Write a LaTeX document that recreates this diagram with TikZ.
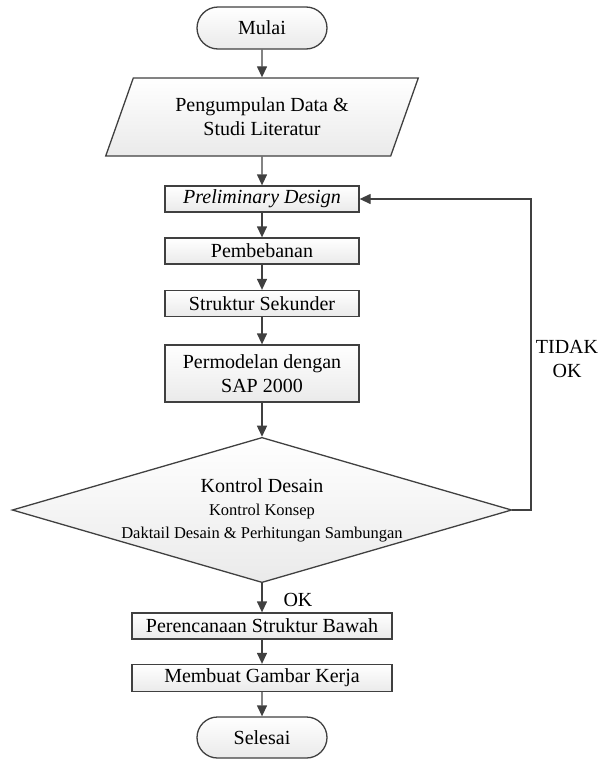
\documentclass[tikz,border=0pt]{standalone}
\usepackage{fontspec}
\setmainfont{Liberation Serif}
\usetikzlibrary{shapes.geometric,shapes.misc,arrows.meta}

\definecolor{garis}{HTML}{404040}
\definecolor{isi}{HTML}{EAEAEA}

\tikzset{
  kotak/.style={draw=garis, line width=1.3pt, top color=white, bottom color=isi,
    minimum width=194pt, minimum height=26pt, inner sep=0pt, align=center,
    font=\fontsize{20}{24}\selectfont},
  terminal/.style={kotak, rounded rectangle, minimum width=130pt, minimum height=42pt},
  masukan/.style={kotak, trapezium, trapezium left angle=64, trapezium right angle=116,
    trapezium stretches=true, minimum width=313pt, minimum height=78pt},
  keputusan/.style={kotak, diamond, shape aspect=3.44},
  panah/.style={draw=garis, line width=1.3pt, -{Triangle[width=10pt,length=11pt]}},
  teks/.style={inner sep=0pt, align=center, font=\fontsize{20}{24}\selectfont}
}

\begin{document}
\begin{tikzpicture}[x=1pt, y=-1pt]
\path [use as bounding box] (0,0) rectangle (599,766);

% alur utama
\node[terminal] (mulai) at (262,28) {Mulai};
\node[masukan] (data) at (262,117) {Pengumpulan Data \&\\Studi Literatur};
\node[kotak] (pd) at (262,199) {\textit{Preliminary Design}};
\node[kotak] (beban) at (262,251) {Pembebanan};
\node[kotak] (sekunder) at (262,303.5) {Struktur Sekunder};
\node[kotak, minimum height=57pt] (sap) at (262,373.5) {Permodelan dengan\\SAP 2000};
\node[keputusan] (kontrol) at (262,510) {Kontrol Desain\\[-1pt]
  {\fontsize{16.5}{22}\selectfont Kontrol Konsep}\\[-1pt]
  {\fontsize{16.5}{22}\selectfont Daktail Desain \& Perhitungan Sambungan}};
\node[kotak, minimum width=260pt] (bawah) at (262,626) {Perencanaan Struktur Bawah};
\node[kotak, minimum width=260pt, minimum height=27pt] (gambar) at (262,678) {Membuat Gambar Kerja};
\node[terminal, minimum height=41pt] (selesai) at (262,737.5) {Selesai};

\draw[panah] (mulai) -- (data);
\draw[panah] (data) -- (pd);
\draw[panah] (pd) -- (beban);
\draw[panah] (beban) -- (sekunder);
\draw[panah] (sekunder) -- (sap);
\draw[panah] (sap) -- (kontrol);
\draw[panah] (kontrol) -- (bawah);
\draw[panah] (bawah) -- (gambar);
\draw[panah] (gambar) -- (selesai);

% kembali ke preliminary design
\coordinate (belok) at (531,510);
\draw[panah] (kontrol.east) -- (belok) |- (pd.east);

\node[teks] (ok) at (298,600) {OK};
\node[teks] (tidak) at (567,359) {TIDAK\\OK};
\end{tikzpicture}
\end{document}
